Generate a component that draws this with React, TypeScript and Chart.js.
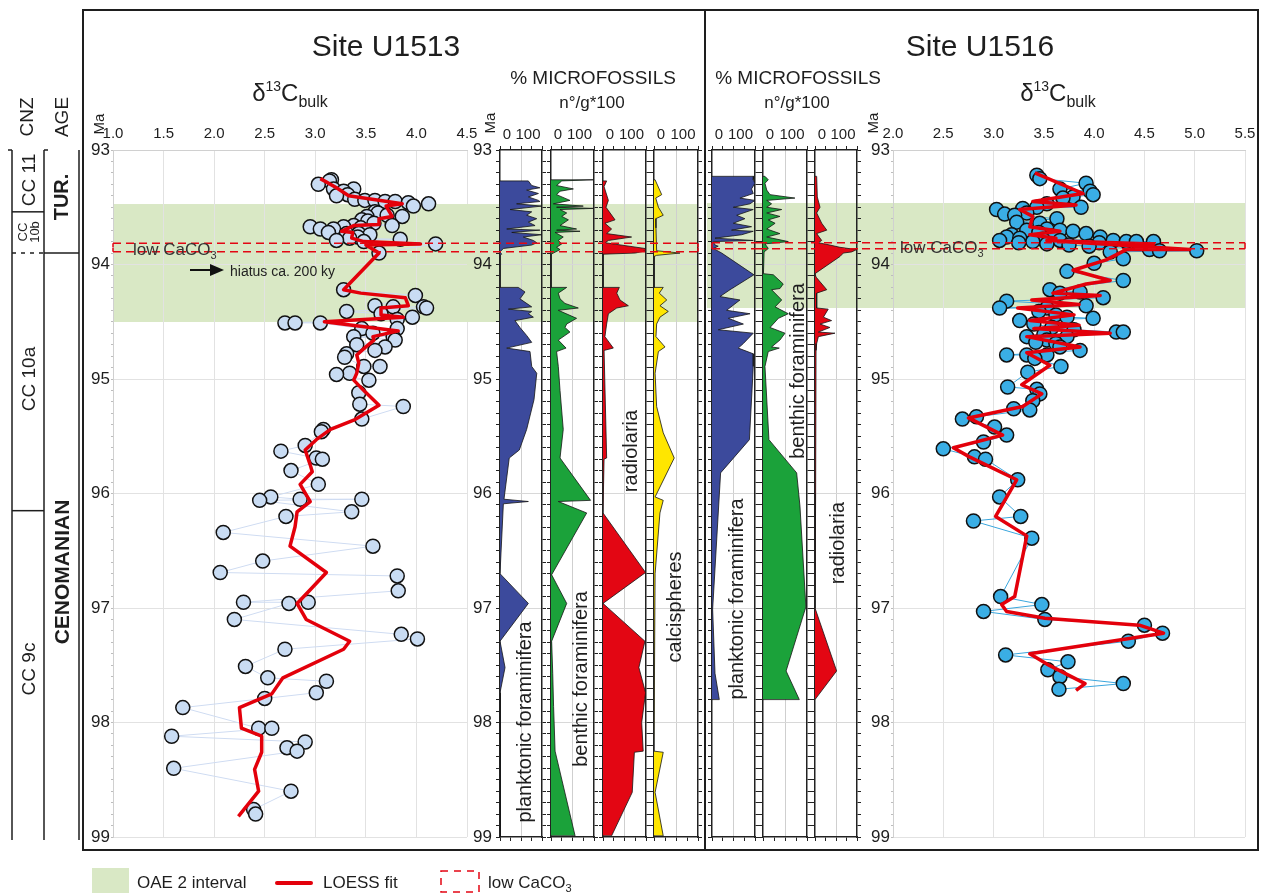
import React, { useEffect, useRef } from 'react';
import { Chart, registerables } from 'chart.js';

Chart.register(...registerables);

const FONT = "'Liberation Sans', Arial, Helvetica, sans-serif";
Chart.defaults.font.family = FONT;
Chart.defaults.color = '#1e1e1e';

type Pair = [number, number];

// ---------------- DATA ----------------
// [age (Ma), δ13C bulk (‰)]
const U1513_D13C: Pair[] = [
  [93.26, 3.16], [93.27, 3.14], [93.3, 3.03], [93.34, 3.18], [93.34, 3.38], [93.36, 3.28], [93.39, 3.32], [93.4, 3.21],
  [93.43, 3.39], [93.44, 3.49], [93.44, 3.59], [93.45, 3.69], [93.45, 3.79], [93.46, 3.92], [93.47, 4.12], [93.49, 3.97],
  [93.54, 3.59], [93.55, 3.62], [93.57, 3.71], [93.58, 3.51], [93.58, 3.86], [93.61, 3.46], [93.62, 3.52], [93.64, 3.58],
  [93.66, 3.76], [93.66, 3.38], [93.67, 2.95], [93.67, 3.28], [93.68, 3.45], [93.69, 3.05], [93.69, 3.18], [93.71, 3.5],
  [93.72, 3.13], [93.73, 3.31], [93.73, 3.43], [93.74, 3.54], [93.76, 3.42], [93.77, 3.34], [93.78, 3.84], [93.79, 3.21],
  [93.8, 3.48], [93.82, 4.19], [93.9, 3.63],
  [94.22, 3.28], [94.27, 3.99], [94.36, 3.59], [94.37, 3.77], [94.37, 4.07], [94.38, 4.1], [94.41, 3.31], [94.43, 3.65],
  [94.46, 3.96], [94.48, 3.81], [94.51, 2.7], [94.51, 2.8], [94.51, 3.05], [94.56, 3.46], [94.56, 3.81], [94.6, 3.57],
  [94.63, 3.77], [94.63, 3.38], [94.66, 3.79], [94.7, 3.41], [94.72, 3.69], [94.75, 3.59], [94.78, 3.31], [94.81, 3.29],
  [94.89, 3.48], [94.89, 3.64], [94.95, 3.34], [94.96, 3.21], [95.01, 3.53], [95.12, 3.43], [95.22, 3.44], [95.24, 3.87],
  [95.35, 3.46], [95.44, 3.08], [95.46, 3.06], [95.58, 2.9], [95.63, 2.66], [95.69, 3.01], [95.7, 3.07], [95.8, 2.76],
  [95.92, 3.03], [96.03, 2.56], [96.05, 2.85], [96.05, 3.46], [96.06, 2.45], [96.16, 3.36], [96.2, 2.71], [96.34, 2.09],
  [96.46, 3.57], [96.59, 2.48], [96.69, 2.06], [96.72, 3.81], [96.85, 3.82], [96.95, 2.29], [96.95, 2.93], [96.96, 2.74],
  [97.1, 2.2], [97.23, 3.85], [97.27, 4.01], [97.36, 2.7], [97.51, 2.31], [97.61, 2.53], [97.64, 3.11], [97.74, 3.01],
  [97.79, 2.5], [97.87, 1.69], [98.05, 2.44], [98.05, 2.57], [98.12, 1.58], [98.17, 2.9], [98.22, 2.72], [98.25, 2.82],
  [98.4, 1.6], [98.6, 2.76], [98.76, 2.39], [98.8, 2.41],
];

const U1513_LOESS: Pair[] = [
  [93.25, 3.05], [93.33, 3.21], [93.4, 3.33], [93.47, 3.86], [93.49, 3.7], [93.58, 3.76], [93.6, 3.63], [93.65, 3.63],
  [93.66, 3.38], [93.71, 3.26], [93.72, 3.37], [93.77, 3.36], [93.8, 3.48], [93.82, 4.04], [93.83, 3.5], [93.9, 3.63],
  [94.22, 3.28], [94.25, 3.45], [94.29, 3.89], [94.36, 3.92], [94.38, 3.65], [94.44, 3.65], [94.46, 3.87], [94.5, 3.09],
  [94.58, 3.82], [94.63, 3.57], [94.66, 3.58], [94.72, 3.5], [94.79, 3.41], [94.86, 3.43], [94.95, 3.41], [95.01, 3.38],
  [95.11, 3.49], [95.23, 3.63], [95.36, 3.38], [95.44, 3.15], [95.53, 3.01], [95.62, 2.9], [95.75, 2.95], [95.81, 2.97],
  [95.92, 2.85], [96.07, 2.95], [96.16, 2.82], [96.29, 2.8], [96.46, 2.75], [96.69, 3.11], [96.84, 2.95], [96.96, 2.82],
  [97.1, 2.91], [97.29, 3.34], [97.36, 3.28], [97.61, 2.68], [97.75, 2.57], [97.87, 2.25], [98.05, 2.27], [98.12, 2.47],
  [98.26, 2.47], [98.41, 2.4], [98.6, 2.44], [98.82, 2.24],
];

const U1516_D13C: Pair[] = [
  [93.22, 3.43], [93.25, 3.46], [93.29, 3.92], [93.34, 3.66], [93.36, 3.96], [93.39, 3.99], [93.41, 3.79], [93.42, 3.69],
  [93.47, 3.53], [93.5, 3.87], [93.5, 3.43], [93.51, 3.29], [93.52, 3.03], [93.55, 3.33], [93.56, 3.11], [93.57, 3.21],
  [93.6, 3.63], [93.63, 3.23], [93.64, 3.46], [93.69, 3.53], [93.7, 3.33], [93.7, 3.66], [93.71, 3.79], [93.72, 3.45],
  [93.73, 3.92], [93.74, 3.18], [93.75, 3.58], [93.76, 4.06], [93.76, 3.13], [93.77, 3.26], [93.78, 3.49], [93.79, 4.19],
  [93.79, 3.06], [93.79, 3.66], [93.8, 4.32], [93.8, 4.42], [93.8, 3.39], [93.8, 4.59], [93.81, 3.25], [93.81, 4.05],
  [93.82, 3.53], [93.83, 3.75], [93.84, 3.95], [93.87, 4.55], [93.88, 4.65], [93.88, 5.02], [93.89, 4.16], [93.95, 4.29],
  [93.99, 4.0], [94.06, 3.73], [94.14, 4.29], [94.22, 3.56], [94.24, 3.86], [94.25, 3.66], [94.29, 4.09], [94.32, 3.13],
  [94.36, 3.92], [94.38, 3.06], [94.38, 3.53], [94.41, 3.45], [94.44, 3.62], [94.46, 3.73], [94.47, 3.99], [94.49, 3.26],
  [94.52, 3.4], [94.55, 3.58], [94.57, 3.8], [94.59, 4.22], [94.59, 4.29], [94.61, 3.5], [94.63, 3.33], [94.63, 3.73],
  [94.66, 3.53], [94.68, 3.42], [94.69, 3.62], [94.72, 3.66], [94.75, 3.86], [94.79, 3.13], [94.79, 3.33], [94.79, 3.53],
  [94.82, 3.41], [94.89, 3.67], [94.94, 3.34], [95.07, 3.14], [95.09, 3.43], [95.13, 3.46], [95.19, 3.39], [95.26, 3.2],
  [95.27, 3.36], [95.33, 2.83], [95.35, 2.69], [95.42, 3.01], [95.49, 3.13], [95.55, 2.9], [95.61, 2.5], [95.68, 2.81],
  [95.7, 2.92], [95.88, 3.24], [96.03, 3.06], [96.2, 3.27], [96.24, 2.8], [96.39, 3.38], [96.9, 3.07], [96.97, 3.48],
  [97.03, 2.9], [97.1, 3.51], [97.15, 4.5], [97.22, 4.68], [97.29, 4.34], [97.41, 3.12], [97.47, 3.74], [97.54, 3.54],
  [97.6, 3.66], [97.66, 4.29], [97.71, 3.65],
];

const U1516_LOESS: Pair[] = [
  [93.2, 3.41], [93.38, 3.89], [93.45, 3.39], [93.48, 3.82], [93.52, 3.26], [93.58, 3.39], [93.67, 3.36], [93.71, 3.66],
  [93.74, 3.36], [93.77, 3.62], [93.79, 3.53], [93.82, 4.59], [93.8, 3.69], [93.87, 4.95], [93.87, 4.32], [93.96, 4.12],
  [94.05, 3.79], [94.14, 4.16], [94.17, 3.92], [94.25, 3.59], [94.27, 4.06], [94.31, 3.38], [94.35, 3.85], [94.38, 3.24],
  [94.44, 3.8], [94.49, 3.36], [94.53, 3.85], [94.56, 3.4], [94.6, 4.16], [94.63, 3.33], [94.72, 3.86], [94.77, 3.33],
  [94.88, 3.56], [95.05, 3.28], [95.13, 3.48], [95.24, 3.29], [95.34, 2.75], [95.49, 3.09], [95.6, 2.6], [95.68, 2.76],
  [95.88, 3.23], [96.2, 3.02], [96.37, 3.33], [96.9, 3.21], [96.97, 3.08], [97.03, 3.13], [97.09, 3.51], [97.15, 4.45],
  [97.22, 4.69], [97.4, 3.36], [97.49, 3.53], [97.66, 3.91], [97.72, 3.82],
];

// [age (Ma), n°/g*100]
const U1513_PLANKTONIC: Pair[] = [
  [93.27, 0], [93.27, 135], [93.31, 151], [93.33, 190], [93.35, 127], [93.38, 183], [93.41, 135], [93.44, 183],
  [93.45, 190], [93.47, 79], [93.49, 198], [93.52, 48], [93.54, 151], [93.57, 127], [93.6, 175], [93.63, 135],
  [93.66, 167], [93.69, 32], [93.7, 190], [93.72, 56], [93.74, 198], [93.76, 111], [93.79, 159], [93.81, 175],
  [93.83, 151], [93.86, 16], [93.89, 0], [93.91, 8], [93.92, 0], [94.2, 0], [94.2, 87], [94.24, 119], [94.3, 95],
  [94.37, 151], [94.39, 40], [94.41, 151], [94.43, 135], [94.46, 159], [94.49, 71], [94.55, 95], [94.62, 127],
  [94.68, 151], [94.73, 32], [94.76, 143], [94.89, 151], [94.95, 175], [95.18, 162], [95.44, 127], [95.62, 92],
  [95.69, 44], [96.05, 19], [96.07, 135], [96.09, 16], [96.7, 0], [96.96, 135], [97.29, 0], [97.52, 24], [97.74, 0],
  [98.5, 3], [99.0, 3], [99.0, 0],
];
const U1513_BENTHIC: Pair[] = [
  [93.26, 0], [93.26, 197], [93.27, 50], [93.31, 26], [93.34, 104], [93.36, 42], [93.39, 26], [93.44, 88], [93.47, 11],
  [93.49, 150], [93.5, 26], [93.51, 197], [93.52, 42], [93.55, 73], [93.58, 50], [93.61, 81], [93.66, 42], [93.69, 119],
  [93.7, 26], [93.71, 135], [93.72, 19], [93.76, 57], [93.79, 34], [93.82, 50], [93.85, 26], [93.87, 42], [93.9, 11],
  [93.91, 0], [94.2, 0], [94.2, 73], [94.25, 34], [94.3, 42], [94.34, 65], [94.38, 127], [94.4, 34], [94.47, 119],
  [94.52, 73], [94.55, 65], [94.59, 88], [94.66, 34], [94.73, 70], [94.76, 26], [94.89, 34], [95.1, 42], [95.44, 57],
  [95.69, 42], [96.06, 184], [96.07, 34], [96.17, 166], [96.71, 3], [96.96, 73], [97.29, 3], [97.57, 8], [97.86, 12],
  [98.25, 19], [98.99, 112], [98.99, 0],
];
const U1513_RADIOLARIA: Pair[] = [
  [93.27, 0], [93.27, 17], [93.32, 5], [93.44, 25], [93.5, 14], [93.61, 56], [93.64, 9], [93.69, 40], [93.73, 17],
  [93.76, 133], [93.79, 25], [93.81, 10], [93.86, 195], [93.88, 200], [93.9, 150], [93.91, 0], [94.2, 0], [94.2, 76],
  [94.25, 64], [94.31, 79], [94.36, 118], [94.38, 64], [94.43, 25], [94.52, 17], [94.63, 9], [94.73, 48], [94.75, 5],
  [95.69, 17], [95.7, 5], [96.17, 0], [96.69, 198], [96.96, 0], [97.29, 195], [97.52, 167], [97.74, 198], [98.0, 180],
  [98.25, 187], [98.26, 146], [98.61, 136], [98.99, 40], [98.99, 0],
];
const U1513_CALCISPHERES: Pair[] = [
  [93.26, 0], [93.26, 5], [93.39, 35], [93.42, 8], [93.5, 20], [93.57, 42], [93.6, 8], [93.68, 9], [93.88, 12],
  [93.9, 118], [93.92, 12], [93.93, 0], [94.2, 0], [94.2, 42], [94.25, 24], [94.31, 58], [94.36, 27], [94.41, 65],
  [94.46, 27], [94.52, 12], [94.63, 9], [94.72, 50], [94.76, 20], [94.95, 5], [95.24, 12], [95.47, 42], [95.69, 92],
  [96.03, 5], [96.06, 42], [96.17, 27], [96.7, 5], [98.25, 0], [98.26, 42], [98.61, 5], [98.99, 42], [98.99, 0],
];
const U1516_PLANKTONIC: Pair[] = [
  [93.23, 0], [93.23, 195], [93.26, 192], [93.29, 200], [93.34, 184], [93.38, 192], [93.42, 130], [93.44, 200],
  [93.47, 177], [93.5, 99], [93.52, 192], [93.57, 115], [93.6, 153], [93.64, 99], [93.67, 184], [93.7, 91], [93.71, 192],
  [93.74, 138], [93.77, 14], [93.79, 192], [93.8, 6], [93.83, 14], [93.84, 29], [93.86, 6], [93.9, 45], [94.09, 195],
  [94.22, 84], [94.28, 37], [94.31, 130], [94.4, 68], [94.43, 177], [94.47, 76], [94.52, 146], [94.57, 29], [94.6, 192],
  [94.69, 146], [94.73, 122], [94.78, 192], [94.89, 192], [95.53, 174], [95.82, 40], [97.01, 3], [97.57, 14],
  [97.8, 34], [97.8, 0],
];
const U1516_BENTHIC: Pair[] = [
  [93.23, 0], [93.23, 9], [93.26, 24], [93.29, 9], [93.35, 17], [93.39, 32], [93.42, 145], [93.44, 17], [93.47, 39],
  [93.5, 17], [93.52, 85], [93.55, 17], [93.58, 77], [93.61, 24], [93.64, 55], [93.69, 17], [93.73, 77], [93.76, 17],
  [93.8, 115], [93.82, 9], [93.86, 24], [93.89, 5], [94.08, 2], [94.09, 47], [94.17, 92], [94.21, 77], [94.22, 39],
  [94.31, 85], [94.37, 55], [94.43, 115], [94.47, 70], [94.55, 32], [94.6, 100], [94.66, 77], [94.72, 39], [94.73, 74],
  [94.76, 24], [94.89, 9], [95.53, 27], [95.82, 153], [96.11, 168], [96.99, 195], [97.55, 105], [97.8, 165], [97.8, 0],
];
const U1516_RADIOLARIA: Pair[] = [
  [93.23, 0], [93.23, 8], [93.41, 11], [93.5, 24], [93.55, 8], [93.64, 32], [93.7, 56], [93.73, 8], [93.79, 32],
  [93.81, 16], [93.83, 71], [93.85, 119], [93.87, 198], [93.89, 175], [93.9, 135], [93.93, 119], [94.08, 0], [94.11, 5],
  [94.22, 56], [94.25, 8], [94.38, 8], [94.39, 63], [94.46, 40], [94.49, 79], [94.52, 24], [94.55, 71], [94.59, 16],
  [94.6, 95], [94.63, 16], [94.69, 8], [94.75, 5], [96.0, 3], [97.0, 0], [97.55, 103], [97.8, 0],
];

const AGE_MIN = 93;
const AGE_MAX = 99;
const D13C_U1513_RANGE: Pair = [1.0, 4.5];
const D13C_U1516_RANGE: Pair = [2.0, 5.5];
const FOSSIL_RANGE: Pair = [0, 200];
const FOSSIL_LABELS = [0, 100];
const OAE2_U1513: Pair = [93.472, 94.502];
const OAE2_U1516: Pair = [93.463, 94.38];
const LOWCACO3_U1513: Pair = [93.815, 93.888];
const LOWCACO3_U1516: Pair = [93.81, 93.862];
// nannofossil zone / stage boundaries (Ma)
const CNZ_BOUNDS = { cc11_10b: 93.54, cc10b_10a: 93.9, cc10a_9c: 96.15 };
const STAGE_BOUND = 93.9;

// ---------------- STYLE / LAYOUT ----------------
const COL = {
  band: '#d9e8c5',
  low: '#e30613',
  loess: '#e3000b',
  u1513pt: '#c9dcf3',
  u1513line: '#cfdcf2',
  u1516pt: '#3aaee5',
  u1516line: '#3aa6dd',
  plank: '#3c4a9c',
  benth: '#1ba23a',
  radio: '#e30613',
  calc: '#ffe600',
  ink: '#1e1e1e',
};
const TOP = 100;
const CH = 750;
const AREA_TOP = 150;
const AREA_BOTTOM = 837;
const CLEAR = 'rgba(0,0,0,0)';
const isInt = (v: number) => Math.abs(v - Math.round(v)) < 1e-6;
const near = (a: number, b: number) => Math.abs(a - b) < 1e-6;

const annotPlugin = {
  id: 'annot',
  beforeDraw(chart: any, _a: any, o: any) {
    if (!o || o.bandFrom == null) return;
    const { ctx, chartArea: a } = chart;
    const ys = chart.scales.y;
    const y0 = ys.getPixelForValue(o.bandFrom);
    const y1 = ys.getPixelForValue(o.bandTo);
    const x0 = o.bandL === 'area' ? a.left : 0;
    const x1 = o.bandR === 'area' ? a.right : chart.width;
    ctx.save();
    ctx.fillStyle = COL.band;
    ctx.fillRect(x0, y0, x1 - x0, y1 - y0);
    ctx.restore();
  },
  afterDraw(chart: any, _a: any, o: any) {
    if (!o || o.lowFrom == null) return;
    const { ctx, chartArea: a } = chart;
    const ys = chart.scales.y;
    const y0 = ys.getPixelForValue(o.lowFrom);
    const y1 = ys.getPixelForValue(o.lowTo);
    const x0 = o.lowL === 'area' ? a.left : 0;
    const x1 = o.lowR === 'area' ? a.right : chart.width;
    ctx.save();
    ctx.strokeStyle = COL.low;
    ctx.lineWidth = 1.5;
    ctx.setLineDash([8, 5]);
    ctx.beginPath();
    ctx.moveTo(x0, y0); ctx.lineTo(x1, y0);
    ctx.moveTo(x0, y1); ctx.lineTo(x1, y1);
    ctx.stroke();
    ctx.setLineDash([]);
    ctx.beginPath();
    if (o.lowLeftEnd) { ctx.moveTo(x0, y0); ctx.lineTo(x0, y0 + 4); ctx.moveTo(x0, y1); ctx.lineTo(x0, y1 - 4); }
    if (o.lowRightEnd) { ctx.moveTo(x1, y0); ctx.lineTo(x1, y0 + 4); ctx.moveTo(x1, y1); ctx.lineTo(x1, y1 - 4); }
    ctx.stroke();
    ctx.restore();
  },
};

function ageAxis(o: {
  position: 'left' | 'right'; width: number; labels: boolean; major: string; tick: string;
  tickLength: number; border: string; borderWidth: number; padding: number; edges: boolean; onArea: boolean;
}) {
  return {
    type: 'linear', position: o.position, min: AGE_MIN, max: AGE_MAX, reverse: true,
    ticks: {
      stepSize: 0.1, maxTicksLimit: 100, autoSkip: false, padding: o.padding, color: COL.ink,
      font: { size: 17 },
      callback: (v: number) => (o.labels && isInt(v) ? String(Math.round(v)) : ''),
    },
    grid: {
      drawOnChartArea: o.onArea,
      color: (c: any) => {
        const v = c.tick ? c.tick.value : NaN;
        if (!isInt(v)) return CLEAR;
        if (!o.edges && (near(v, AGE_MIN) || near(v, AGE_MAX))) return CLEAR;
        return o.major;
      },
      tickColor: o.tick, tickLength: o.tickLength, lineWidth: 1,
    },
    border: { color: o.border, width: o.borderWidth },
    afterFit: (s: any) => { s.width = o.width; s.paddingTop = 0; s.paddingBottom = 0; },
  };
}

type Annot = {
  bandFrom: number; bandTo: number; bandL: string; bandR: string;
  lowFrom: number; lowTo: number; lowL: string; lowR: string; lowLeftEnd?: boolean; lowRightEnd?: boolean;
};

function d13cConfig(p: {
  points: Pair[]; loess: Pair[]; range: Pair; ptColor: string; lineColor: string;
  leftW: number; rightPad: number; annot: Annot;
}) {
  return {
    type: 'scatter',
    data: {
      datasets: [
        {
          label: 'LOESS fit', data: p.loess.map(([a, v]) => ({ x: v, y: a })), showLine: true,
          borderColor: COL.loess, borderWidth: 3.5, pointRadius: 0, fill: false, borderJoinStyle: 'round',
        },
        {
          label: 'δ13C bulk', data: p.points.map(([a, v]) => ({ x: v, y: a })), showLine: true,
          borderColor: p.lineColor, borderWidth: 1, pointRadius: 7, pointBorderWidth: 1.5,
          pointBackgroundColor: p.ptColor, pointBorderColor: '#111',
        },
      ],
    },
    options: {
      animation: false, responsive: false, events: [],
      layout: { autoPadding: false, padding: { top: 0, left: 0, right: p.rightPad, bottom: CH - (AREA_BOTTOM - TOP) } },
      plugins: { legend: { display: false }, tooltip: { enabled: false }, annot: p.annot },
      scales: {
        x: {
          type: 'linear', position: 'top', min: p.range[0], max: p.range[1],
          ticks: { stepSize: 0.5, autoSkip: false, maxRotation: 0, padding: 7, color: COL.ink, font: { size: 15 },
            callback: (v: number) => Number(v).toFixed(1) },
          grid: { color: '#e2e2e2', drawTicks: false, lineWidth: 1 },
          border: { color: '#d0d0d0', width: 1 },
          afterFit: (s: any) => { s.height = AREA_TOP - TOP; s.paddingLeft = 0; s.paddingRight = 0; },
        },
        y: ageAxis({ position: 'left', width: p.leftW, labels: true, major: '#e2e2e2', tick: '#bdbdbd',
          tickLength: 2, border: '#d0d0d0', borderWidth: 1, padding: 1, edges: true, onArea: true }),
      },
    },
    plugins: [annotPlugin],
  };
}

function fossilConfig(p: {
  data: Pair[]; color: string; leftW: number; rightW: number; yLabels: boolean; annot: Annot; label: string;
}) {
  return {
    type: 'line',
    data: {
      datasets: [
        {
          label: p.label, data: p.data.map(([a, v]) => ({ x: v, y: a })), fill: 'origin',
          backgroundColor: p.color, borderColor: '#151515', borderWidth: 0.8, pointRadius: 0, tension: 0,
        },
      ],
    },
    options: {
      animation: false, responsive: false, events: [], indexAxis: 'y',
      layout: { autoPadding: false, padding: 0 },
      plugins: { legend: { display: false }, tooltip: { enabled: false }, annot: p.annot },
      scales: {
        x: {
          type: 'linear', position: 'top', min: FOSSIL_RANGE[0], max: FOSSIL_RANGE[1],
          ticks: { stepSize: 50, autoSkip: false, maxRotation: 0, padding: 2, labelOffset: 7, color: COL.ink,
            font: { size: 15 }, callback: (v: number) => (FOSSIL_LABELS.some((l) => near(v, l)) ? String(v) : '') },
          grid: { color: (c: any) => (c.tick && near(c.tick.value, 100) ? '#cfcfcf' : CLEAR),
            tickColor: '#222', tickLength: 4, lineWidth: 1 },
          border: { color: '#222', width: 1.5 },
          afterFit: (s: any) => { s.height = AREA_TOP - TOP; s.paddingLeft = 0; s.paddingRight = 0; },
        },
        x2: {
          type: 'linear', position: 'bottom', min: FOSSIL_RANGE[0], max: FOSSIL_RANGE[1],
          ticks: { stepSize: 50, autoSkip: false, maxRotation: 0, callback: () => '' },
          grid: { drawOnChartArea: false, tickColor: '#222', tickLength: 4 },
          border: { color: '#222', width: 1.5 },
          afterFit: (s: any) => { s.height = CH - (AREA_BOTTOM - TOP); s.paddingLeft = 0; s.paddingRight = 0; },
        },
        y: ageAxis({ position: 'left', width: p.leftW, labels: p.yLabels, major: '#d8d8d8', tick: '#222',
          tickLength: 4, border: '#222', borderWidth: 1.5, padding: 4, edges: false, onArea: true }),
        y2: ageAxis({ position: 'right', width: p.rightW, labels: false, major: CLEAR, tick: '#222',
          tickLength: 4, border: '#222', borderWidth: 1.5, padding: 0, edges: false, onArea: false }),
      },
    },
    plugins: [annotPlugin],
  };
}

const A13: Annot = { bandFrom: OAE2_U1513[0], bandTo: OAE2_U1513[1], bandL: 'canvas', bandR: 'canvas',
  lowFrom: LOWCACO3_U1513[0], lowTo: LOWCACO3_U1513[1], lowL: 'canvas', lowR: 'canvas' };
const A16: Annot = { bandFrom: OAE2_U1516[0], bandTo: OAE2_U1516[1], bandL: 'canvas', bandR: 'canvas',
  lowFrom: LOWCACO3_U1516[0], lowTo: LOWCACO3_U1516[1], lowL: 'canvas', lowR: 'canvas' };

type Panel = { key: string; left: number; width: number; config: () => any };

const PANELS: Panel[] = [
  { key: 'd13c-1513', left: 85, width: 395, config: () => d13cConfig({ points: U1513_D13C, loess: U1513_LOESS,
    range: D13C_U1513_RANGE, ptColor: COL.u1513pt, lineColor: COL.u1513line, leftW: 28, rightPad: 13,
    annot: { ...A13, bandL: 'area', bandR: 'area', lowL: 'area', lowR: 'area', lowLeftEnd: true } }) },
  { key: 'pl-1513', left: 467, width: 79, config: () => fossilConfig({ data: U1513_PLANKTONIC, color: COL.plank,
    leftW: 33, rightW: 4, yLabels: true, annot: A13, label: 'planktonic foraminifera' }) },
  { key: 'be-1513', left: 546, width: 52, config: () => fossilConfig({ data: U1513_BENTHIC, color: COL.benth,
    leftW: 5, rightW: 4, yLabels: false, annot: A13, label: 'benthic foraminifera' }) },
  { key: 'ra-1513', left: 598, width: 52, config: () => fossilConfig({ data: U1513_RADIOLARIA, color: COL.radio,
    leftW: 5, rightW: 4, yLabels: false, annot: A13, label: 'radiolaria' }) },
  { key: 'ca-1513', left: 650, width: 53, config: () => fossilConfig({ data: U1513_CALCISPHERES, color: COL.calc,
    leftW: 4, rightW: 5, yLabels: false, annot: { ...A13, bandR: 'area', lowR: 'area', lowRightEnd: true },
    label: 'calcispheres' }) },
  { key: 'pl-1516', left: 707, width: 52, config: () => fossilConfig({ data: U1516_PLANKTONIC, color: COL.plank,
    leftW: 5, rightW: 4, yLabels: false, annot: { ...A16, lowL: 'area', lowLeftEnd: true },
    label: 'planktonic foraminifera' }) },
  { key: 'be-1516', left: 759, width: 52, config: () => fossilConfig({ data: U1516_BENTHIC, color: COL.benth,
    leftW: 4, rightW: 4, yLabels: false, annot: A16, label: 'benthic foraminifera' }) },
  { key: 'ra-1516', left: 811, width: 51, config: () => fossilConfig({ data: U1516_RADIOLARIA, color: COL.radio,
    leftW: 4, rightW: 5, yLabels: false, annot: A16, label: 'radiolaria' }) },
  { key: 'd13c-1516', left: 862, width: 395, config: () => d13cConfig({ points: U1516_D13C, loess: U1516_LOESS,
    range: D13C_U1516_RANGE, ptColor: COL.u1516pt, lineColor: COL.u1516line, leftW: 31, rightPad: 12,
    annot: { ...A16, bandR: 'area', lowR: 'area', lowRightEnd: true } }) },
];

function PanelCanvas({ panel }: { panel: Panel }) {
  const ref = useRef<HTMLCanvasElement | null>(null);
  useEffect(() => {
    if (!ref.current) return;
    const chart = new Chart(ref.current, panel.config());
    return () => chart.destroy();
  }, [panel]);
  return (
    <canvas ref={ref} width={panel.width} height={CH}
      style={{ position: 'absolute', left: panel.left, top: TOP, width: panel.width, height: CH, display: 'block' }} />
  );
}

const yOf = (age: number) => AREA_TOP + ((age - AGE_MIN) / (AGE_MAX - AGE_MIN)) * (AREA_BOTTOM - AREA_TOP);

function VText({ x, y, size, children, bold }: { x: number; y: number; size: number; children: any; bold?: boolean }) {
  return (
    <text transform={`translate(${x},${y}) rotate(-90)`} textAnchor="middle" dominantBaseline="central"
      fontSize={size} fontWeight={bold ? 'bold' : 'normal'} fill={COL.ink}>{children}</text>
  );
}

function D13CLabel({ x }: { x: number }) {
  return (
    <text x={x} y={101} textAnchor="middle" fontSize={24} fill={COL.ink}>
      δ<tspan fontSize={14} dy={-10}>13</tspan><tspan fontSize={24} dy={10}>C</tspan>
      <tspan fontSize={16} dy={6}>bulk</tspan>
    </text>
  );
}

function Overlay() {
  const ln = { stroke: '#1e1e1e', strokeWidth: 1.5 };
  const colTop = AREA_TOP;
  const colBot = AREA_BOTTOM + 3;
  return (
    <svg width={1265} height={893} style={{ position: 'absolute', left: 0, top: 0, pointerEvents: 'none' }}
      fontFamily={FONT}>
      {/* frames */}
      <rect x={83} y={10} width={1175} height={840} fill="none" stroke="#1e1e1e" strokeWidth={2} />
      <line x1={705} y1={10} x2={705} y2={850} stroke="#1e1e1e" strokeWidth={2} />

      {/* titles */}
      <text x={386} y={56} textAnchor="middle" fontSize={30} fill={COL.ink}>Site U1513</text>
      <text x={980} y={56} textAnchor="middle" fontSize={30} fill={COL.ink}>Site U1516</text>
      <D13CLabel x={290} />
      <D13CLabel x={1058} />
      <text x={593} y={84} textAnchor="middle" fontSize={19} fill={COL.ink}>% MICROFOSSILS</text>
      <text x={592} y={108} textAnchor="middle" fontSize={17} fill={COL.ink}>n°/g*100</text>
      <text x={798} y={84} textAnchor="middle" fontSize={19} fill={COL.ink}>% MICROFOSSILS</text>
      <text x={797} y={108} textAnchor="middle" fontSize={17} fill={COL.ink}>n°/g*100</text>
      <VText x={98} y={124} size={15}>Ma</VText>
      <VText x={489} y={123} size={15}>Ma</VText>
      <VText x={872} y={123} size={15}>Ma</VText>

      {/* annotations */}
      <text x={133} y={255} fontSize={17} fill="#333">low CaCO<tspan fontSize={11} dy={4}>3</tspan></text>
      <text x={900} y={253} fontSize={17} fill="#333">low CaCO<tspan fontSize={11} dy={4}>3</tspan></text>
      <line x1={190} y1={270} x2={212} y2={270} stroke="#111" strokeWidth={2} />
      <polygon points="210,264 224,270 210,276" fill="#111" />
      <text x={230} y={276} fontSize={14} fill="#222">hiatus ca. 200 ky</text>

      {/* rotated panel labels */}
      <VText x={524} y={722} size={20}>planktonic foraminifera</VText>
      <VText x={580} y={679} size={20}>benthic foraminifera</VText>
      <VText x={630} y={451} size={20}>radiolaria</VText>
      <VText x={674} y={607} size={20}>calcispheres</VText>
      <VText x={736} y={599} size={20}>planktonic foraminifera</VText>
      <VText x={797} y={371} size={20}>benthic foraminifera</VText>
      <VText x={837} y={543} size={20}>radiolaria</VText>

      {/* stratigraphic columns */}
      <VText x={26} y={117} size={19}>CNZ</VText>
      <VText x={61} y={117} size={19}>AGE</VText>
      <line x1={12} y1={colTop} x2={12} y2={colBot} {...ln} />
      <line x1={44} y1={colTop} x2={44} y2={colBot} {...ln} />
      <line x1={79} y1={colTop} x2={79} y2={colBot} {...ln} />
      <line x1={8} y1={colTop} x2={12} y2={colTop} {...ln} />
      <line x1={44} y1={colTop} x2={48} y2={colTop} {...ln} />
      <line x1={12} y1={yOf(CNZ_BOUNDS.cc11_10b)} x2={44} y2={yOf(CNZ_BOUNDS.cc11_10b)} {...ln} />
      <line x1={12} y1={yOf(CNZ_BOUNDS.cc10b_10a)} x2={44} y2={yOf(CNZ_BOUNDS.cc10b_10a)} {...ln} strokeDasharray="4 5" />
      <line x1={44} y1={yOf(STAGE_BOUND)} x2={79} y2={yOf(STAGE_BOUND)} {...ln} />
      <line x1={12} y1={yOf(CNZ_BOUNDS.cc10a_9c)} x2={44} y2={yOf(CNZ_BOUNDS.cc10a_9c)} {...ln} />
      <VText x={28} y={180} size={19}>CC 11</VText>
      <text transform={`translate(29,232) rotate(-90)`} textAnchor="middle" fontSize={13} fill={COL.ink}>
        <tspan x={0} dy={-2}>CC</tspan>
        <tspan x={0} dy={12}>10b</tspan>
      </text>
      <VText x={28} y={379} size={19}>CC 10a</VText>
      <VText x={28} y={669} size={19}>CC 9c</VText>
      <VText x={61} y={197} size={20} bold>TUR.</VText>
      <VText x={61} y={572} size={21} bold>CENOMANIAN</VText>

      {/* legend */}
      <rect x={92} y={868} width={37} height={25} fill={COL.band} />
      <text x={137} y={888} fontSize={17} fill={COL.ink}>OAE 2 interval</text>
      <line x1={277} y1={883} x2={311} y2={883} stroke={COL.loess} strokeWidth={4} strokeLinecap="round" />
      <text x={323} y={888} fontSize={17} fill={COL.ink}>LOESS fit</text>
      <rect x={441} y={871} width={38} height={21} fill="none" stroke={COL.low} strokeWidth={1.5} strokeDasharray="7 6" />
      <text x={488} y={888} fontSize={17} fill={COL.ink}>low CaCO<tspan fontSize={11} dy={4}>3</tspan></text>
    </svg>
  );
}

export default function App() {
  return (
    <div style={{ position: 'absolute', left: 0, top: 0, width: 1265, height: 893, background: '#fff', overflow: 'hidden',
      fontFamily: FONT }}>
      {PANELS.map((p) => (
        <PanelCanvas key={p.key} panel={p} />
      ))}
      <Overlay />
    </div>
  );
}
